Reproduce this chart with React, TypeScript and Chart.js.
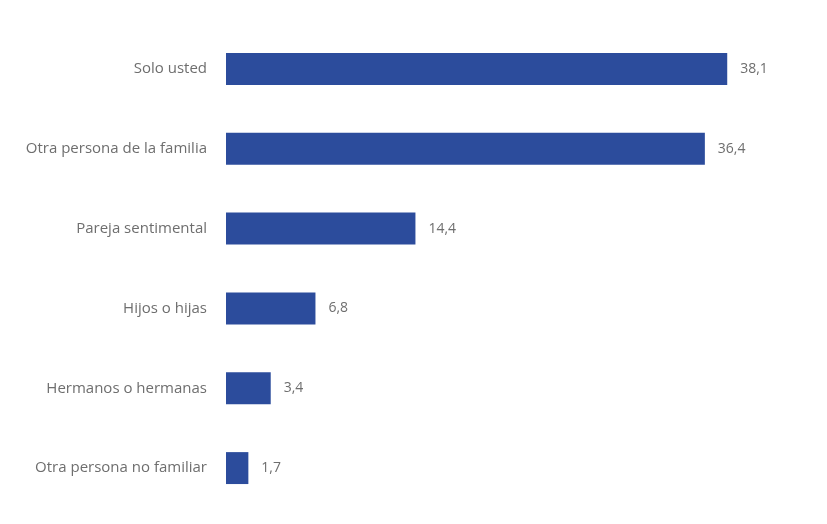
import React, { useEffect, useRef } from "react";
import { Chart, registerables } from "chart.js";

Chart.register(...registerables);

const categories = [
  "Solo usted",
  "Otra persona de la familia",
  "Pareja sentimental",
  "Hijos o hijas",
  "Hermanos o hermanas",
  "Otra persona no familiar",
];
const values = [38.1, 36.4, 14.4, 6.8, 3.4, 1.7];
const valueLabels = ["38,1", "36,4", "14,4", "6,8", "3,4", "1,7"];

const BAR_COLOR = "#2c4c9c";
const TEXT_COLOR = "#6e6e6e";
const FONT = "'Open Sans', 'Liberation Sans', sans-serif";

export default function App() {
  const ref = useRef<HTMLCanvasElement | null>(null);
  useEffect(() => {
    if (!ref.current) return;
    const labelPlugin = {
      id: "valueLabels",
      afterDatasetsDraw(chart: any) {
        const ctx = chart.ctx;
        const meta = chart.getDatasetMeta(0);
        ctx.save();
        ctx.font = `14px ${FONT}`;
        ctx.fillStyle = TEXT_COLOR;
        ctx.textAlign = "left";
        ctx.textBaseline = "middle";
        meta.data.forEach((bar: any, i: number) => {
          ctx.fillText(valueLabels[i], bar.x + 13, bar.y);
        });
        ctx.restore();
      },
    };
    const chart = new Chart(ref.current, {
      type: "bar",
      data: {
        labels: categories,
        datasets: [
          {
            data: values,
            backgroundColor: BAR_COLOR,
            borderWidth: 0,
            barPercentage: 0.8,
            categoryPercentage: 0.5,
          },
        ],
      },
      options: {
        indexAxis: "y",
        animation: false,
        responsive: false,
        maintainAspectRatio: false,
        layout: { padding: { top: 29, bottom: 16, left: 0, right: 9 } },
        plugins: { legend: { display: false }, tooltip: { enabled: false } },
        scales: {
          x: {
            display: false,
            min: 0,
            max: 45,
            grid: { display: false },
          },
          y: {
            grid: { display: false },
            border: { display: false },
            ticks: {
              color: TEXT_COLOR,
              font: { family: FONT, size: 15 },
              padding: 11,
            },
            afterFit(scale: any) {
              scale.width = 226;
              scale.paddingTop = 0;
              scale.paddingBottom = 0;
            },
          },
        },
      },
      plugins: [labelPlugin],
    });
    return () => chart.destroy();
  }, []);
  return (
    <div style={{ position: "absolute", left: 0, top: 0, width: 827, height: 524, background: "#fff" }}>
      <canvas ref={ref} width={827} height={524} />
    </div>
  );
}
